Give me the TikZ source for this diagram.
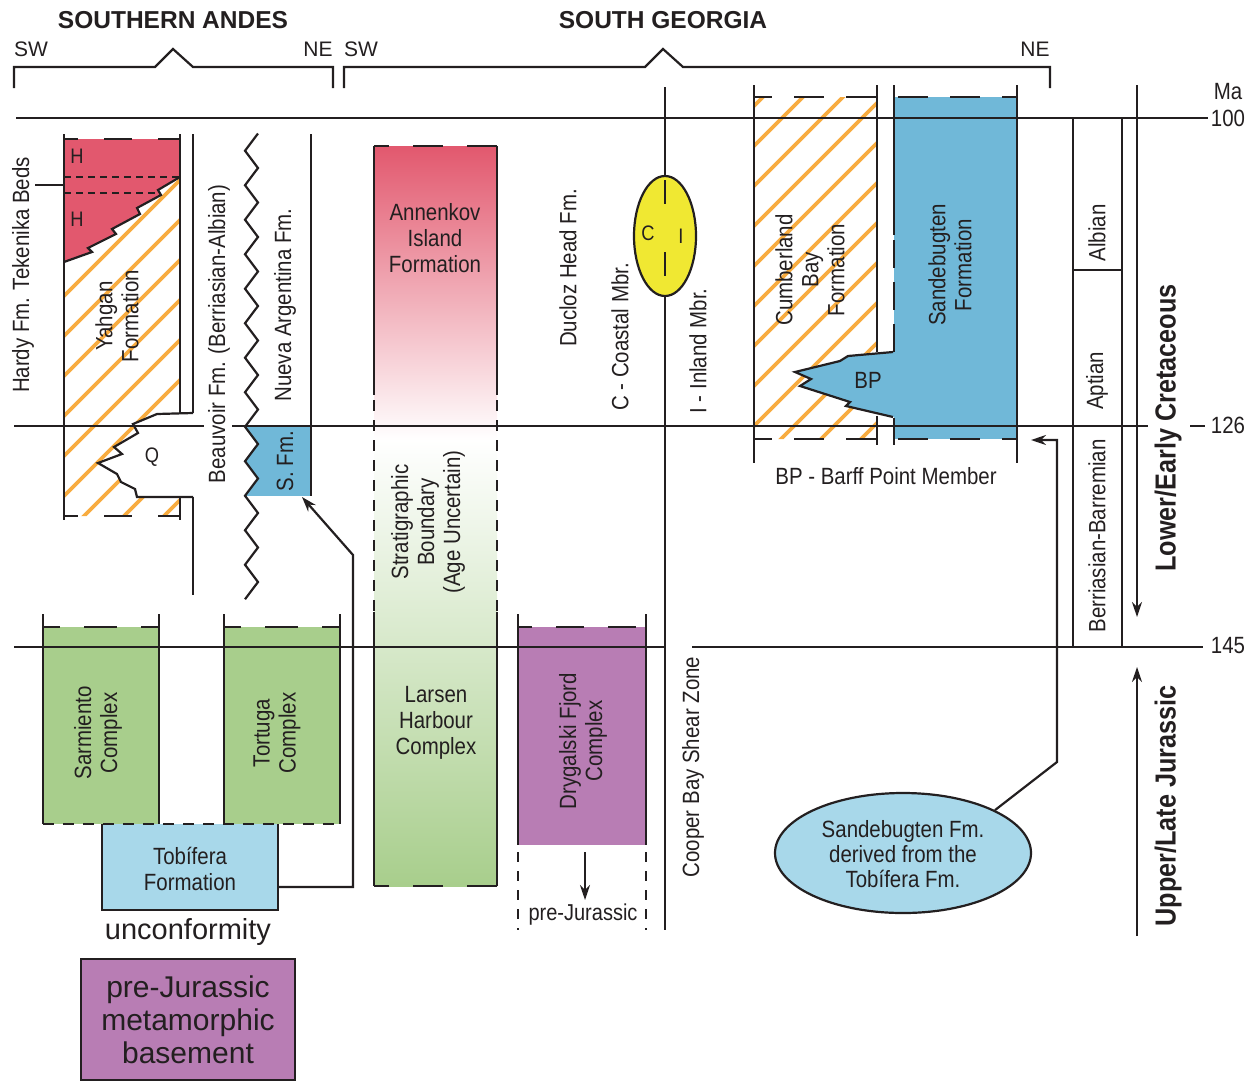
\documentclass[tikz,border=0pt]{standalone}
\usepackage{fontspec}
\setmainfont{Liberation Sans}[FakeStretch=0.87]
\newfontfamily\widefont{Liberation Sans}
\usetikzlibrary{shapes.geometric,arrows.meta}
\definecolor{ink}{RGB}{35,31,32}
\definecolor{hred}{RGB}{226,88,110}
\definecolor{sblue}{RGB}{112,184,216}
\definecolor{lblue}{RGB}{168,216,234}
\definecolor{lgreen}{RGB}{168,206,140}
\definecolor{purp}{RGB}{184,125,180}
\definecolor{yel}{RGB}{240,232,50}
\definecolor{hatchc}{RGB}{248,172,64}
\begin{document}
\begin{tikzpicture}[x=1pt,y=-1pt,
  colline/.style={draw=ink,line width=2.6pt},
  tline/.style={draw=ink,line width=1.2pt},
  topdash/.style={draw=ink,line width=2.6pt,dash pattern=on 28pt off 26pt,dash phase=14pt},
  smalldash/.style={draw=ink,line width=2.6pt,dash pattern=on 11pt off 9pt},
  hatchln/.style={draw=hatchc,line width=3.6pt},
  arr/.style={draw=ink,line width=2.2pt,-{Stealth[length=15pt,width=10pt]}},
  txt/.style={text=ink,font=\fontsize{23.5}{26}\selectfont,align=center,inner sep=0pt},
  vtxt/.style={txt,rotate=90},
  wtxt/.style={txt,font=\widefont\fontsize{21}{24}\selectfont},
  btxt/.style={txt,rotate=90,font=\bfseries\fontsize{29}{32}\selectfont},
]
\useasboundingbox (0,0) rectangle (1255,1082);

% ---------- headings and brackets
\node[txt,font=\widefont\bfseries\fontsize{24.5}{28}\selectfont] (hSA) at (173,20) {SOUTHERN ANDES};
\node[txt,font=\widefont\bfseries\fontsize{24.5}{28}\selectfont] (hSG) at (663,20) {SOUTH GEORGIA};
\node[wtxt] (sw1) at (31,49) {SW};
\node[wtxt] (ne1) at (318,49) {NE};
\node[wtxt] (sw2) at (361,49) {SW};
\node[wtxt] (ne2) at (1035,49) {NE};
\draw[colline,line width=2.2pt] (14,88) -- (14,67) -- (155,67) -- (173,49) -- (193,67) -- (333,67) -- (333,88);
\draw[colline,line width=2.2pt] (344,88) -- (344,67) -- (645,67) -- (663,49) -- (683,67) -- (1050,67) -- (1050,88);

% ---------- fills
\fill[hred] (64,139) -- (180,139) -- (180,177) -- (158,190) -- (161,195) -- (137,208) -- (140,214) -- (112,229) -- (116,234) -- (88,248) -- (92,252) -- (64,262) -- cycle;
\begin{scope}
\clip (64,262) -- (92,252) -- (88,248) -- (116,234) -- (112,229) -- (140,214) -- (137,208) -- (161,195) -- (158,190) -- (180,177) -- (180,413) -- (157,414) -- (133,424) -- (138,433) -- (114,447) -- (122,454) -- (98,463) -- (117,474) -- (121,482) -- (135,489) -- (137,497) -- (180,497) -- (180,516) -- (64,516) -- cycle;
\foreach \c in {-400,-360,...,140} \draw[hatchln] (\c,600) -- ++(600,-600);
\end{scope}
\fill[sblue] (245,426.75) -- (258,444) -- (245,461.25) -- (258,478.5) -- (245,495.75) -- (311,495.75) -- (311,426.75) -- cycle;
\fill[lgreen] (43,627) rectangle (159,824);
\fill[lgreen] (224,627) rectangle (340,824);
\fill[lblue] (102,824) rectangle (278,910);
\fill[purp] (81,959) rectangle (295,1080);
\shade[top color=hred, bottom color=white] (374,146) rectangle (497,440);
\shade[top color=white, middle color=lgreen!70, bottom color=lgreen] (374,440) rectangle (497,886);
\fill[purp] (518,627) rectangle (646,845);
\begin{scope}
\clip (754,97) -- (877,97) -- (877,352) -- (848,356) -- (840,361) -- (795,372) -- (811,379) -- (800,386) -- (850,402) -- (846,406) -- (877,414) -- (877,439) -- (754,439) -- cycle;
\foreach \c in {220,260,...,760} \draw[hatchln] (\c,600) -- ++(600,-600);
\end{scope}
\fill[sblue] (894,97) rectangle (1017,439);
\fill[sblue] (895,352) -- (848,356) -- (840,361) -- (795,372) -- (811,379) -- (800,386) -- (850,402) -- (846,406) -- (895,417) -- cycle;

% ---------- time lines
\draw[tline] (16,118) -- (1208,118);
\draw[tline] (14,426) -- (204,426);
\draw[tline] (232,426) -- (1148,426);
\draw[tline] (1190,426) -- (1205,426);
\draw[tline] (14,647) -- (665,647);
\draw[tline] (692,647) -- (1203,647);

% ---------- Southern Andes column outlines
\draw[colline,line width=2.2pt] (64,262) -- (92,252) -- (88,248) -- (116,234) -- (112,229) -- (140,214) -- (137,208) -- (161,195) -- (158,190) -- (180,177);
\draw[colline,line width=2.2pt] (193,413) -- (157,414) -- (133,424) -- (138,433) -- (114,447) -- (122,454) -- (98,463) -- (117,474) -- (121,482) -- (135,489) -- (137,497) -- (193,497);
\draw[colline] (64,134) -- (64,520);
\draw[colline] (180,134) -- (180,413);
\draw[colline] (180,497) -- (180,520);
\draw[colline] (193,134) -- (193,413);
\draw[colline] (193,497) -- (193,595);
\draw[topdash] (64,139) -- (180,139);
\draw[topdash] (64,516) -- (180,516);
\draw[draw=ink,line width=2.2pt,dash pattern=on 7pt off 5pt] (64,177) -- (180,177) (64,193) -- (158,193);
\draw[tline] (35,185) -- (64,185);
\draw[colline,line width=2.2pt] (258,133.5) \foreach \k in {0,...,12} { -- (245,{150.75+34.5*\k}) -- (258,{168+34.5*\k}) } -- (245,599.25);
\draw[colline] (311,134) -- (311,496);
\draw[colline] (43,614) -- (43,824) (159,614) -- (159,824);
\draw[colline] (224,614) -- (224,824) (340,614) -- (340,824);
\draw[draw=ink,line width=2.6pt,dash pattern=on 33pt off 24pt,dash phase=16pt] (43,627) -- (159,627);
\draw[draw=ink,line width=2.6pt,dash pattern=on 33pt off 24pt,dash phase=16pt] (224,627) -- (340,627);
\draw[smalldash] (43,824) -- (340,824);
\draw[colline] (102,824) -- (102,910) -- (278,910) -- (278,824);
\draw[colline] (81,959) rectangle (295,1080);

% ---------- Annenkov / Larsen outline
\draw[colline] (374,146) -- (374,395) (497,146) -- (497,395);
\draw[smalldash] (374,400) -- (374,612) (497,400) -- (497,612);
\draw[colline] (374,612) -- (374,886) (497,612) -- (497,886);
\draw[draw=ink,line width=2.6pt,dash pattern=on 30pt off 24pt,dash phase=15pt] (374,146) -- (497,146);
\draw[draw=ink,line width=2.6pt,dash pattern=on 30pt off 24pt,dash phase=15pt] (374,886) -- (497,886);

% ---------- Ducloz line and ellipse
\draw[colline] (665,87) -- (665,930);
\node[ellipse,draw=ink,line width=2.2pt,fill=yel,minimum width=62pt,minimum height=120pt,inner sep=0pt] (ell) at (665,236) {};
\draw[colline,line width=2.2pt] (665,180) -- (665,204) (665,252) -- (665,276);
\node[txt,font=\fontsize{21}{24}\selectfont] (cC) at (648,233) {C};
\node[txt,font=\fontsize{21}{24}\selectfont] (cI) at (681,236) {I};

% ---------- Drygalski
\draw[colline] (518,614) -- (518,845) (646,614) -- (646,845);
\draw[draw=ink,line width=2.4pt,dash pattern=on 10pt off 9pt] (518,852) -- (518,930) (646,852) -- (646,930);
\draw[draw=ink,line width=2.6pt,dash pattern=on 28pt off 24pt,dash phase=14pt] (518,627) -- (646,627);
\coordinate (dgA) at (585,852);
\coordinate (dgB) at (585,900);
\draw[arr] (dgA) -- (dgB);

% ---------- Cumberland / Sandebugten outlines
\draw[colline] (754,85) -- (754,463) (1017,85) -- (1017,463);
\draw[colline] (877,85) -- (877,352) (877,416) -- (877,445);
\draw[colline] (894,85) -- (894,235) (894,418) -- (894,445);
\draw[draw=ink,line width=2.6pt,dash pattern=on 28pt off 14pt] (894,240) -- (894,352);
\draw[draw=ink,line width=2.6pt,dash pattern=on 30pt off 22pt,dash phase=12pt] (754,97) -- (1017,97);
\draw[draw=ink,line width=2.6pt,dash pattern=on 30pt off 22pt,dash phase=12pt] (754,439) -- (1017,439);
\draw[colline,line width=2.2pt] (893,352) -- (848,356) -- (840,361) -- (795,372) -- (811,379) -- (800,386) -- (850,402) -- (846,406) -- (893,417);

% ---------- stage box and period arrows
\draw[colline,line width=2.2pt] (1073,118) rectangle (1122,647);
\draw[colline,line width=2.2pt] (1073,270) -- (1122,270);
\coordinate (lcA) at (1137,85);
\coordinate (lcB) at (1137,617);
\coordinate (ljA) at (1137,936);
\coordinate (ljB) at (1137,667);
\draw[arr] (lcA) -- (lcB);
\draw[arr] (ljA) -- (ljB);

% ---------- connectors
\coordinate (tobE) at (278,887);
\coordinate (sfmB) at (302,497);
\draw[arr] (tobE) -- (353,887) -- (353,555) -- (sfmB);
\node[ellipse,draw=ink,line width=2.2pt,fill=lblue,minimum width=256pt,minimum height=120pt,inner sep=0pt] (note) at (903,853) {};
\node[txt,font=\fontsize{23.5}{25}\selectfont] (notetxt) at (903,854) {Sandebugten Fm.\\derived from the\\Tob\'{\i}fera Fm.};
\coordinate (sbR) at (1031,440);
\draw[arr] (note.25) -- (1057,762) -- (1057,440) -- (sbR);

% ---------- labels
\node[vtxt] (tek) at (23,275) {Hardy Fm. Tekenika Beds};
\node[txt,font=\fontsize{21}{24}\selectfont] (h1) at (77,156) {H};
\node[txt,font=\fontsize{21}{24}\selectfont] (h2) at (77,219) {H};
\node[vtxt] (yah) at (117,316) {Yahgan\\Formation};
\node[txt,font=\fontsize{21}{24}\selectfont] (q) at (152,457) {Q};
\node[vtxt] (beau) at (219,334) {Beauvoir Fm. (Berriasian-Albian)};
\node[vtxt] (nueva) at (285,305) {Nueva Argentina Fm.};
\node[vtxt] (sfm) at (285,461) {S. Fm.};
\node[vtxt] (sarm) at (98,733) {Sarmiento\\Complex};
\node[vtxt] (tort) at (277,733) {Tortuga\\Complex};
\node[txt] (tob) at (190,869) {Tob\'{\i}fera\\Formation};
\node[txt,font=\widefont\fontsize{29}{32}\selectfont] (unc) at (188,932) {unconformity};
\node[txt,font=\widefont\fontsize{30}{33}\selectfont] (base) at (188,1020) {pre-Jurassic\\metamorphic\\basement};
\node[txt] (ann) at (435,238) {Annenkov\\Island\\Formation};
\node[vtxt] (strat) at (428,522) {Stratigraphic\\Boundary\\(Age Uncertain)};
\node[txt] (lars) at (436,723) {Larsen\\Harbour\\Complex};
\node[vtxt] (dry) at (583,741) {Drygalski Fjord\\Complex};
\node[txt,font=\fontsize{23}{25}\selectfont] (prej) at (583,915) {pre-Jurassic};
\node[vtxt] (duc) at (568,268) {Ducloz Head Fm.};
\node[vtxt] (coast) at (620,337) {C - Coastal Mbr.};
\node[vtxt] (inl) at (698,351) {I - Inland Mbr.};
\node[vtxt] (coop) at (693,767) {Cooper Bay Shear Zone};
\node[vtxt] (cumb) at (810,270) {Cumberland\\Bay\\Formation};
\node[vtxt] (sand) at (950,265) {Sandebugten\\Formation};
\node[txt] (bp) at (868,380) {BP};
\node[txt] (bpm) at (886,476) {BP - Barff Point Member};
\node[vtxt] (alb) at (1097,233) {Albian};
\node[vtxt] (apt) at (1097,381) {Aptian};
\node[vtxt] (ber) at (1097,536) {Berriasian-Barremian};
\node[btxt] (lec) at (1168,428) {Lower/Early Cretaceous};
\node[btxt] (ulj) at (1168,806) {Upper/Late Jurassic};
\node[txt] (ma) at (1228,92) {Ma};
\node[txt] (m100) at (1228,118) {100};
\node[txt] (m126) at (1228,425) {126};
\node[txt] (m145) at (1228,646) {145};
\end{tikzpicture}
\end{document}
